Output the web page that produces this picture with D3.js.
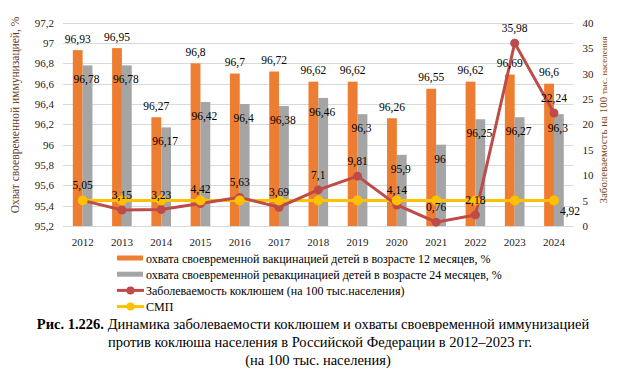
<!doctype html>
<html>
<head>
<meta charset="utf-8">
<title>Коклюш</title>
<script src="https://cdn.jsdelivr.net/npm/d3@7"></script>
<style>
  body { margin: 0; background: #fff; }
  svg, svg text { font-family: "Liberation Serif", "Times New Roman", "DejaVu Serif", serif; }
  .grid line { stroke: #d9d9d9; stroke-width: 1; }
  .lbl { font-size: 11.5px; fill: #000; text-anchor: middle; }
  .tick text { font-size: 11px; fill: #222; }
</style>
</head>
<body>
<svg width="634" height="377"></svg>
<script>
var years = ["2012","2013","2014","2015","2016","2017","2018","2019","2020","2021","2022","2023","2024"];
var vaccination12 = [96.93, 96.95, 96.27, 96.8, 96.7, 96.72, 96.62, 96.62, 96.26, 96.55, 96.62, 96.69, 96.6];
var revaccination24 = [96.78, 96.78, 96.17, 96.42, 96.4, 96.38, 96.46, 96.3, 95.9, 96, 96.25, 96.27, 96.3];
var incidence = [5.05, 3.15, 3.23, 4.42, 5.63, 3.69, 7.1, 9.81, 4.14, 0.76, 2.18, 35.98, 22.24];
var smp = [5, 5, 5, 5, 5, 5, 5, 5, 5, 5, 5, 5, 5];
var smpLabels = [null, null, null, null, null, null, null, null, null, null, null, null, 4.92];
var leftTicks = [95.2, 95.4, 95.6, 95.8, 96, 96.2, 96.4, 96.6, 96.8, 97, 97.2];
var rightTicks = [0, 5, 10, 15, 20, 25, 30, 35, 40];
var legendItems = [
  "охвата своевременной вакцинацией детей в возрасте 12 месяцев, %",
  "охвата своевременной ревакцинацией детей в возрасте 24 месяцев, %",
  "Заболеваемость коклюшем (на 100 тыс.населения)",
  "СМП"
];

var C_OR = "#ed7d31", C_GR = "#a5a5a5", C_RED = "#be4b48", C_YEL = "#ffc000";
var fmt = function(v) { return String(v).replace(".", ","); };

var svg = d3.select("svg");
var plotL = 63, plotR = 573.6, plotT = 22.7, plotB = 226;

var x = d3.scaleBand().domain(years).range([plotL, plotR]).paddingInner(0.5).paddingOuter(0.25);
var xs = d3.scaleBand().domain(["v", "r"]).range([0, x.bandwidth()]);
var cx = function(d, i) { return x(years[i]) + x.bandwidth() / 2; };

var yL = d3.scaleLinear().domain([95.2, 97.2]).range([plotB, plotT]);
var yR = d3.scaleLinear().domain([0, 40]).range([plotB, plotT]);

// grid
svg.append("g").attr("class", "grid")
  .selectAll("line").data(leftTicks).enter().append("line")
  .attr("x1", plotL).attr("x2", plotR)
  .attr("y1", function(d) { return Math.round(yL(d)) + 0.5; })
  .attr("y2", function(d) { return Math.round(yL(d)) + 0.5; });

// axes
var axL = svg.append("g").attr("transform", "translate(" + (plotL - 6) + ",0)")
  .call(d3.axisLeft(yL).tickValues(leftTicks).tickSize(0).tickPadding(3).tickFormat(fmt));
axL.select(".domain").remove();

var axR = svg.append("g").attr("transform", "translate(" + (plotR + 6) + ",0)")
  .call(d3.axisRight(yR).tickValues(rightTicks).tickSize(0).tickPadding(3));
axR.select(".domain").remove();

var axB = svg.append("g").attr("transform", "translate(0," + plotB + ")")
  .call(d3.axisBottom(x).tickSize(0).tickPadding(12));
axB.select(".domain").remove();

svg.selectAll(".tick text").attr("font-family", null);

// bars
svg.append("g").selectAll("rect").data(vaccination12).enter().append("rect")
  .attr("x", function(d, i) { return x(years[i]) + xs("v"); })
  .attr("width", xs.bandwidth())
  .attr("y", function(d) { return yL(d); })
  .attr("height", function(d) { return plotB - yL(d); })
  .attr("fill", C_OR);

svg.append("g").selectAll("rect").data(revaccination24).enter().append("rect")
  .attr("x", function(d, i) { return x(years[i]) + xs("r"); })
  .attr("width", xs.bandwidth())
  .attr("y", function(d) { return yL(d); })
  .attr("height", function(d) { return plotB - yL(d); })
  .attr("fill", C_GR);

// lines
var lineR = d3.line().x(function(d, i) { return cx(d, i); }).y(function(d) { return yR(d); });

svg.append("path").datum(smp).attr("d", lineR)
  .attr("fill", "none").attr("stroke", C_YEL).attr("stroke-width", 3);
svg.append("path").datum(incidence).attr("d", lineR)
  .attr("fill", "none").attr("stroke", C_RED).attr("stroke-width", 3);

svg.append("g").selectAll("circle").data(incidence).enter().append("circle")
  .attr("cx", cx).attr("cy", function(d) { return yR(d); }).attr("r", 4.5).attr("fill", C_RED);
svg.append("g").selectAll("circle").data(smp).enter().append("circle")
  .attr("cx", cx).attr("cy", function(d) { return yR(d); }).attr("r", 5).attr("fill", C_YEL);

// data labels
svg.append("g").selectAll("text").data(vaccination12).enter().append("text")
  .attr("class", "lbl")
  .attr("x", function(d, i) { return x(years[i]) + xs("v") + xs.bandwidth() / 2; })
  .attr("y", function(d) { return yL(d) - 7.5; })
  .text(fmt);

svg.append("g").selectAll("text").data(revaccination24).enter().append("text")
  .attr("class", "lbl")
  .attr("x", function(d, i) { return x(years[i]) + xs("r") + xs.bandwidth() / 2 - 1; })
  .attr("y", function(d) { return yL(d) + 18; })
  .text(fmt);

svg.append("g").selectAll("text").data(incidence).enter().append("text")
  .attr("class", "lbl")
  .attr("x", cx)
  .attr("y", function(d) { return yR(d) - 11; })
  .text(fmt);

smpLabels.forEach(function(v, i) {
  if (v === null) return;
  svg.append("text")
    .attr("class", "lbl").style("text-anchor", "start")
    .attr("x", cx(v, i) + 6)
    .attr("y", yR(smp[i]) + 14)
    .text(fmt(v));
});

// axis titles
svg.append("text")
  .attr("transform", "translate(19,115) rotate(-90)")
  .attr("text-anchor", "middle")
  .style("font-size", "11.5px").attr("fill", "#5b3b2a")
  .text("Охват своевременной иммунизацией, %");

var rt = svg.append("text")
  .attr("transform", "translate(607,120) rotate(-90)")
  .attr("text-anchor", "middle")
  .attr("fill", "#7b4a22");
rt.append("tspan").style("font-size", "11px").text("Заболеваемость на 100 ");
rt.append("tspan").style("font-size", "9px").text("тыс. населения");

// legend
var lg = svg.append("g").attr("transform", "translate(117,258)");
legendItems.forEach(function(t, i) {
  var g = lg.append("g").attr("transform", "translate(0," + (i * 16.2) + ")");
  if (i < 2) {
    g.append("rect").attr("x", 0).attr("y", -2.5).attr("width", 26).attr("height", 5)
      .attr("fill", i === 0 ? C_OR : C_GR);
  } else {
    var c = i === 2 ? C_RED : C_YEL;
    g.append("line").attr("x1", 0).attr("x2", 27).attr("y1", 0).attr("y2", 0)
      .attr("stroke", c).attr("stroke-width", 3);
    g.append("circle").attr("cx", 13.5).attr("cy", 0).attr("r", 4).attr("fill", c);
  }
  g.append("text").attr("x", 29).attr("y", 4.5).style("font-size", "12px").attr("fill", "#000").text(t);
});

// caption
var cap = svg.append("g").attr("text-anchor", "middle").style("font-size", "14.5px").attr("fill", "#000");
var l1 = cap.append("text").attr("x", 313).attr("y", 329);
l1.append("tspan").style("font-weight", "bold").text("Рис. 1.226.");
l1.append("tspan").text(" Динамика заболеваемости коклюшем и охваты своевременной иммунизацией");
cap.append("text").attr("x", 320).attr("y", 347)
  .text("против коклюша населения в Российской Федерации в 2012–2023 гг.");
cap.append("text").attr("x", 318).attr("y", 365).text("(на 100 тыс. населения)");
</script>
</body>
</html>
